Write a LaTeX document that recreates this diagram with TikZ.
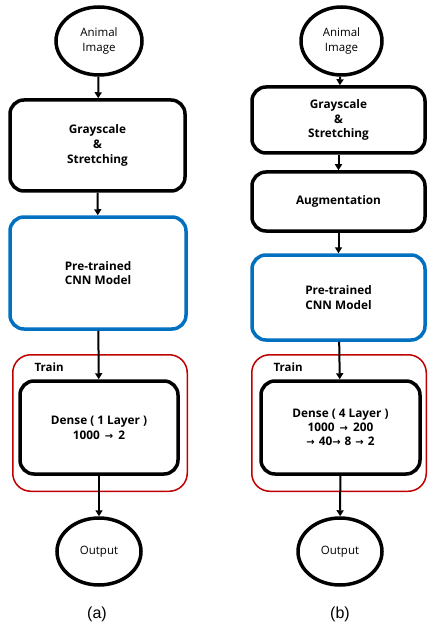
\documentclass[tikz,border=0pt]{standalone}
\usepackage{fontspec}
\setmainfont{Open Sans}
\newfontfamily\capfont{Liberation Sans}
\newfontfamily\symfont{DejaVu Sans}
\usetikzlibrary{shapes.geometric,arrows.meta}
\definecolor{cnnblue}{HTML}{0070C0}
\definecolor{trainred}{HTML}{C00000}
\newcommand{\rarr}{{\symfont\bfseries\fontsize{10}{10}\selectfont →}}
\tikzset{
  x=1pt, y=-1pt,
  proc/.style={draw=black, line width=3.5pt, rounded corners=14pt, fill=white, align=center, font=\bfseries\fontsize{11.8}{14.8}\selectfont, inner sep=0pt},
  cnn/.style={proc, draw=cnnblue},
  trainbox/.style={draw=trainred, line width=1.5pt, rounded corners=18pt, inner sep=0pt},
  term/.style={ellipse, draw=black, line width=3.5pt, fill=white, align=center, font=\fontsize{11.5}{15}\selectfont, inner sep=0pt},
  flow/.style={line width=2pt, -{Triangle[width=7pt,length=6pt]}},
  captext/.style={font=\capfont\fontsize{16}{18}\selectfont},
}
\begin{document}
\begin{tikzpicture}
\useasboundingbox (0,0) rectangle (428,628);
% column (a)
\node[trainbox, minimum width=174.5pt, minimum height=136.5pt] (trainA) at (100,423) {};
\node[anchor=west, font=\bfseries\fontsize{11.5}{12}\selectfont] (trainlabA) at (31,367) {Train};
\node[term, minimum width=86pt, minimum height=68pt] (inA) at (99,41) {Animal\\Image};
\node[proc, minimum width=175pt, minimum height=91pt] (grayA) at (97.5,145.5) {Grayscale\\\&\\Stretching};
\node[cnn, minimum width=176pt, minimum height=112pt] (cnnA) at (98,273) {Pre-trained\\CNN Model};
\node[proc, minimum width=158pt, minimum height=93pt] (denseA) at (99,427.5) {Dense ( 1 Layer )\\1000\hspace{5pt}\rarr\hspace{5pt}2};
\node[term, minimum width=84pt, minimum height=67pt] (outA) at (99,551.5) {Output};
\node[captext] (capA) at (97,614) {(a)};
\draw[flow] (inA) -- (grayA);
\draw[flow] (grayA) -- (cnnA);
\draw[flow] (cnnA) -- (denseA);
\draw[flow] (denseA) -- (outA);
% column (b)
\node[trainbox, minimum width=174.5pt, minimum height=136.5pt] (trainB) at (339,423) {};
\node[anchor=west, font=\bfseries\fontsize{11.5}{12}\selectfont] (trainlabB) at (270,367) {Train};
\node[term, minimum width=81pt, minimum height=68pt] (inB) at (341.5,41) {Animal\\Image};
\node[proc, minimum width=173pt, minimum height=66pt] (grayB) at (338.5,120) {Grayscale\\\&\\Stretching};
\node[proc, minimum width=173pt, minimum height=59pt] (augB) at (338.5,201.5) {Augmentation};
\node[cnn, minimum width=173pt, minimum height=85pt] (cnnB) at (338.5,297.5) {Pre-trained\\CNN Model};
\node[proc, minimum width=159pt, minimum height=93pt, font=\bfseries\fontsize{11.8}{14.3}\selectfont] (denseB) at (340.5,427.5) {Dense ( 4 Layer )\\1000\hspace{5pt}\rarr\hspace{5pt}200\\\rarr\hspace{4pt}40\rarr\hspace{4pt}8\hspace{4pt}\rarr\hspace{4pt}2};
\node[term, minimum width=84pt, minimum height=67pt] (outB) at (340,551.5) {Output};
\node[captext] (capB) at (340,614) {(b)};
\draw[flow] (inB) -- (grayB);
\draw[flow] (grayB) -- (augB);
\draw[flow] (augB) -- (cnnB);
\draw[flow] (cnnB) -- (denseB);
\draw[flow] (denseB) -- (outB);
\end{tikzpicture}
\end{document}
